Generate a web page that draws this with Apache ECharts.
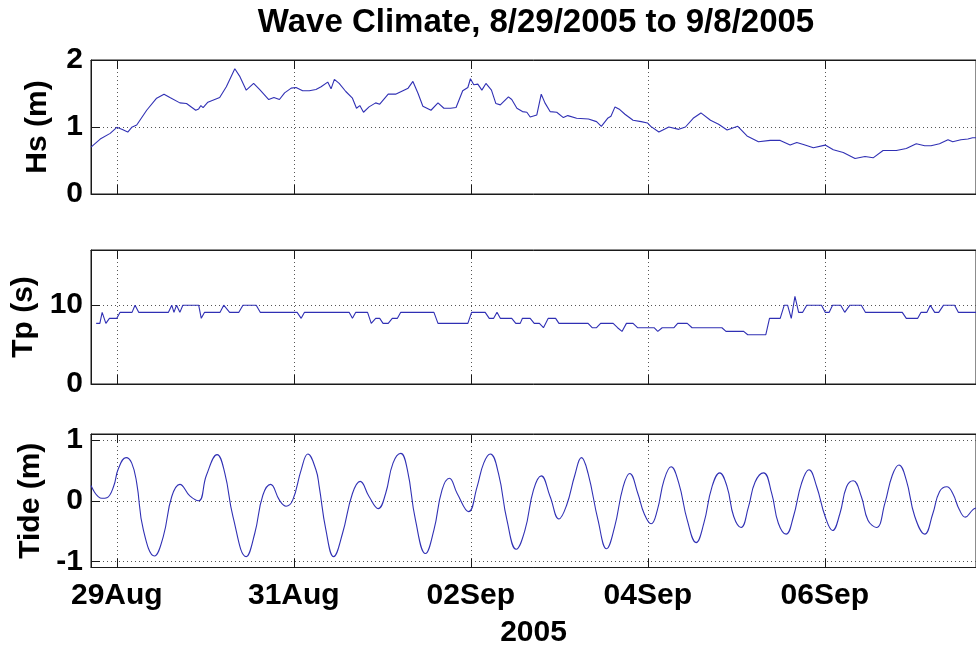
<!DOCTYPE html>
<html>
<head>
<meta charset="utf-8">
<script src="https://cdn.jsdelivr.net/npm/echarts@6/dist/echarts.min.js"></script>
<style>
  html, body { margin: 0; padding: 0; background: #fff; }
  #chart { width: 976px; height: 651px; }
</style>
</head>
<body>
<div id="chart"></div>
<script>
// Time is in hours from 29 Aug 2005 00:00 (local); the record spans 28 Aug 17:00 to 7 Sep 17:00.
const xStartHour = -7;
const xEndHour = 233;
const xTickHours = [0, 48, 96, 144, 192];
const xTickLabels = ['29Aug', '31Aug', '02Sep', '04Sep', '06Sep'];
const xYearLabel = '2005';

// Significant wave height (m)
const hsHours = [-7, -4.5, -1.8, 0, 1.35, 2.97, 4.05, 5.4, 8.1, 10.8, 12.8, 14.4, 17.1, 18.9, 21.4, 22.2, 22.8, 23.4, 24.7, 27.9,
  29.7, 32.0, 33.3, 35.1, 37.1, 38.7, 41.2, 42.6, 44.1, 45.5, 47.3, 48.6, 50.4, 52.2, 54.0, 55.4, 57.2, 58.1, 59.0, 60.3,
  62.1, 63.9, 65.0, 65.9, 66.9, 68.4, 70.2, 71.3, 73.6, 75.6, 79.0, 80.3, 81.7, 83.0, 85.2, 87.1, 88.7, 90.5, 92.0, 93.8,
  95.2, 95.9, 96.8, 97.9, 99.0, 100.1, 101.6, 102.8, 104.0, 106.2, 107.1, 108.5, 110.0, 111.2, 112.1, 113.9, 115.1, 116.1, 117.5, 119.3,
  121.1, 122.3, 124.7, 127.9, 130.1, 131.4, 133.1, 134.0, 135.1, 136.4, 137.8, 140.0, 142.2, 143.9, 144.8, 147.0, 149.7, 152.4, 154.2, 156.3,
  158.4, 161.0, 163.2, 165.5, 168.4, 170.9, 174.0, 177.2, 179.9, 182.6, 184.4, 186.2, 188.9, 192.1, 194.3, 197.0, 200.2, 202.9, 205.1, 207.8,
  211.4, 214.1, 216.8, 219.1, 220.8, 223.1, 225.4, 226.7, 228.9, 230.8, 232.1, 233];
const hsValues = [0.70, 0.82, 0.905, 0.995, 0.965, 0.925, 0.995, 1.03, 1.25, 1.43, 1.49, 1.44, 1.36, 1.35, 1.25, 1.27, 1.32, 1.29, 1.37, 1.44,
  1.60, 1.87, 1.76, 1.55, 1.65, 1.56, 1.41, 1.44, 1.41, 1.51, 1.58, 1.59, 1.54, 1.54, 1.56, 1.60, 1.67, 1.57, 1.71, 1.65,
  1.53, 1.43, 1.28, 1.32, 1.22, 1.30, 1.36, 1.34, 1.49, 1.49, 1.58, 1.68, 1.50, 1.31, 1.25, 1.36, 1.28, 1.28, 1.29, 1.54,
  1.59, 1.72, 1.63, 1.64, 1.55, 1.65, 1.55, 1.35, 1.33, 1.45, 1.41, 1.28, 1.23, 1.22, 1.15, 1.18, 1.49, 1.36, 1.23, 1.22,
  1.14, 1.17, 1.13, 1.12, 1.08, 1.01, 1.13, 1.16, 1.30, 1.26, 1.19, 1.10, 1.08, 1.06, 1.01, 0.925, 1.00, 0.965, 1.00, 1.13,
  1.21, 1.10, 1.04, 0.955, 1.01, 0.866, 0.78, 0.80, 0.80, 0.73, 0.77, 0.74, 0.69, 0.73, 0.66, 0.62, 0.53, 0.56, 0.54, 0.65,
  0.65, 0.68, 0.75, 0.72, 0.72, 0.75, 0.81, 0.78, 0.81, 0.82, 0.84, 0.84];

// Peak period (s)
const tpHours = [-5.6, -4.6, -3.97, -2.97, -2.0, 0, 0.89, 4.13, 4.94, 5.94, 14.0, 14.9, 15.5, 16.2, 17.1, 17.9, 22.2, 22.9, 23.8, 28.0,
  29.0, 30.6, 33.1, 34.2, 37.8, 38.9, 48.9, 50.0, 50.9, 63.0, 63.9, 64.8, 68.0, 69.0, 70.2, 71.3, 72.2, 73.6, 74.7, 76.1,
  77.0, 86.0, 87.1, 95.2, 96.2, 99.9, 101.0, 102.2, 103.1, 104.0, 107.1, 108.2, 109.4, 110.0, 112.1, 113.2, 114.6, 115.7, 117.0, 119.0,
  119.9, 127.8, 128.9, 130.1, 131.2, 134.6, 135.8, 137.0, 138.2, 140.0, 141.2, 145.7, 146.7, 147.9, 151.1, 152.1, 154.7, 156.0, 164.1, 165.2,
  170.0, 171.1, 176.0, 177.0, 179.9, 181.0, 181.9, 182.9, 183.9, 184.9, 186.0, 187.1, 191.1, 192.1, 193.2, 194.1, 196.3, 197.4, 198.8, 201.9,
  203.0, 213.0, 214.1, 217.2, 218.1, 219.7, 220.6, 221.8, 222.9, 224.2, 227.2, 228.2, 233];
const tpValues = [7.69, 7.69, 9.09, 7.69, 8.33, 8.33, 9.09, 9.09, 10.0, 9.09, 9.09, 10.0, 9.09, 10.0, 9.09, 10.0, 10.0, 8.33, 9.09, 9.09,
  10.0, 9.09, 9.09, 10.0, 10.0, 9.09, 9.09, 8.33, 9.09, 9.09, 8.33, 9.09, 9.09, 7.69, 8.33, 8.33, 7.69, 7.69, 8.33, 8.33,
  9.09, 9.09, 7.69, 7.69, 9.09, 9.09, 8.33, 8.33, 9.09, 8.33, 8.33, 7.69, 7.69, 8.33, 8.33, 7.69, 7.69, 7.14, 8.33, 8.33,
  7.69, 7.69, 7.14, 7.14, 7.69, 7.69, 7.14, 6.67, 7.69, 7.69, 7.14, 7.14, 6.67, 7.14, 7.14, 7.69, 7.69, 7.14, 7.14, 6.67,
  6.67, 6.25, 6.25, 8.33, 8.33, 10.0, 10.0, 8.33, 11.11, 9.09, 9.09, 10.0, 10.0, 9.09, 9.09, 10.0, 10.0, 9.09, 10.0, 10.0,
  9.09, 9.09, 8.33, 8.33, 9.09, 9.09, 10.0, 9.09, 9.09, 10.0, 10.0, 9.09, 9.09];

// Tide elevation (m)
const tideHours = [-7, -4.05, -2.7, -0.9, 0.44, 2.5, 4.05, 5.4, 7.2, 10.2, 12.6, 14.9, 17.1, 19.8, 22.2, 24.3, 27.2, 29.3, 31.5, 35.1,
  37.4, 39.6, 41.7, 44.1, 45.9, 47.7, 50.0, 51.8, 54.0, 54.9, 56.7, 58.8, 61.2, 63.9, 66.0, 68.4, 70.9, 72.9, 74.9, 77.0,
  78.8, 81.0, 83.7, 86.0, 88.2, 90.2, 92.3, 95.4, 97.7, 99.5, 101.3, 103.5, 105.8, 108.3, 110.7, 113.0, 115.1, 117.5, 119.9, 122.0,
  124.2, 126.0, 127.8, 130.5, 132.8, 135.0, 137.3, 139.1, 141.3, 143.0, 144.9, 146.6, 148.4, 150.3, 152.4, 154.7, 157.1, 159.2, 161.4, 163.5,
  165.5, 167.3, 169.3, 171.3, 173.1, 175.4, 177.6, 179.4, 181.5, 183.5, 185.7, 187.7, 189.8, 192.1, 194.1, 196.1, 197.9, 199.7, 201.9, 203.7,
  206.0, 208.3, 210.3, 212.1, 214.1, 216.4, 219.1, 221.3, 223.1, 225.1, 226.7, 228.5, 230.1, 232.1, 233];
const tideValues = [0.25, 0.04, 0.05, 0.23, 0.53, 0.71, 0.62, 0.29, -0.48, -0.91, -0.59, 0.07, 0.27, 0.08, 0.0, 0.42, 0.76, 0.45, -0.26, -0.92,
  -0.54, 0.09, 0.27, 0.01, -0.09, 0.01, 0.51, 0.77, 0.51, 0.23, -0.48, -0.92, -0.54, 0.12, 0.32, 0.07, -0.13, 0.12, 0.62, 0.78,
  0.51, -0.32, -0.87, -0.48, 0.18, 0.37, 0.12, -0.18, 0.23, 0.62, 0.77, 0.45, -0.32, -0.80, -0.48, 0.18, 0.41, 0.07, -0.30, -0.07,
  0.42, 0.71, 0.45, -0.32, -0.79, -0.43, 0.23, 0.45, 0.12, -0.21, -0.38, -0.15, 0.34, 0.56, 0.29, -0.32, -0.69, -0.37, 0.23, 0.46,
  0.23, -0.26, -0.44, -0.10, 0.31, 0.46, 0.12, -0.37, -0.55, -0.26, 0.29, 0.51, 0.23, -0.26, -0.49, -0.21, 0.23, 0.33, 0.07, -0.32,
  -0.44, -0.04, 0.42, 0.59, 0.34, -0.26, -0.55, -0.21, 0.15, 0.23, 0.12, -0.15, -0.27, -0.15, -0.12];

const panelNames = ['Hs (m)', 'Tp (s)', 'Tide (m)'];
const panelRanges = [[0, 2], [0, 17], [-1.1, 1.1]];
const panelTicks = [[0, 1, 2], [0, 10], [-1, 0, 1]];

const FONT = '"Liberation Sans", Arial, Helvetica, sans-serif';
const INK = '#1a1a1a';
const LINE = '#3030b4';
const dotted = { type: [1, 3], color: '#555', width: 1 };

const grids = [
  { left: 91, right: -4, top: 60, height: 134 },
  { left: 91, right: -4, top: 250, height: 134 },
  { left: 91, right: -4, top: 434, height: 133.5 }
].map(g => Object.assign({ show: true, borderColor: INK, borderWidth: 1, backgroundColor: 'transparent' }, g));

const xAxes = [];
const yAxes = [];
const nameGaps = [38, 49, 44];
for (let i = 0; i < 3; i++) {
  const isLast = i === 2;
  xAxes.push({
    type: 'value', gridIndex: i, position: 'bottom', min: xStartHour, max: xEndHour,
    axisLine: { show: true, onZero: false, lineStyle: { color: INK } },
    axisTick: { show: true, inside: true, length: 9, customValues: xTickHours, lineStyle: { color: INK } },
    splitLine: { show: true, lineStyle: dotted },
    axisLabel: {
      show: isLast, customValues: xTickHours, margin: 13,
      fontFamily: FONT, fontWeight: 'bold', fontSize: 30, color: '#000',
      formatter: v => xTickLabels[xTickHours.indexOf(v)] || ''
    },
    name: isLast ? xYearLabel : '', nameLocation: 'middle', nameGap: 50,
    nameTextStyle: { fontFamily: FONT, fontWeight: 'bold', fontSize: 30, color: '#000' }
  });
  xAxes.push({
    type: 'value', gridIndex: i, position: 'top', min: xStartHour, max: xEndHour,
    axisLine: { show: true, onZero: false, lineStyle: { color: INK } },
    axisTick: { show: true, inside: true, length: 9, customValues: xTickHours, lineStyle: { color: INK } },
    splitLine: { show: false },
    axisLabel: { show: false }
  });
  yAxes.push({
    type: 'value', gridIndex: i, min: panelRanges[i][0], max: panelRanges[i][1],
    axisLine: { show: true, onZero: false, lineStyle: { color: INK } },
    axisTick: { show: true, inside: true, length: 9, customValues: panelTicks[i], lineStyle: { color: INK } },
    splitLine: { show: true, lineStyle: dotted },
    axisLabel: {
      customValues: panelTicks[i], margin: 8,
      fontFamily: FONT, fontWeight: 'bold', fontSize: 30, color: '#000'
    },
    name: panelNames[i], nameLocation: 'middle', nameGap: nameGaps[i], nameRotate: 90,
    nameTextStyle: { fontFamily: FONT, fontWeight: 'bold', fontSize: 30, color: '#000' }
  });
}

const zip = (xs, ys) => xs.map((x, k) => [x, ys[k]]);
const lineSeries = (data, i, smooth) => ({
  type: 'line', xAxisIndex: i * 2, yAxisIndex: i, data: data,
  showSymbol: false, smooth: smooth,
  lineStyle: { color: LINE, width: 1.1 }, itemStyle: { color: LINE },
  silent: true, animation: false
});

const chart = echarts.init(document.getElementById('chart'), null, { renderer: 'canvas' });
chart.setOption({
  backgroundColor: '#fff',
  animation: false,
  title: {
    text: 'Wave Climate, 8/29/2005 to 9/8/2005',
    left: 531, top: 1, textAlign: 'center',
    textStyle: { fontFamily: FONT, fontWeight: 'bold', fontSize: 33, color: '#000' }
  },
  grid: grids,
  xAxis: xAxes,
  yAxis: yAxes,
  series: [
    lineSeries(zip(hsHours, hsValues), 0, false),
    lineSeries(zip(tpHours, tpValues), 1, false),
    lineSeries(zip(tideHours, tideValues), 2, 0.45)
  ]
});
</script>
</body>
</html>
